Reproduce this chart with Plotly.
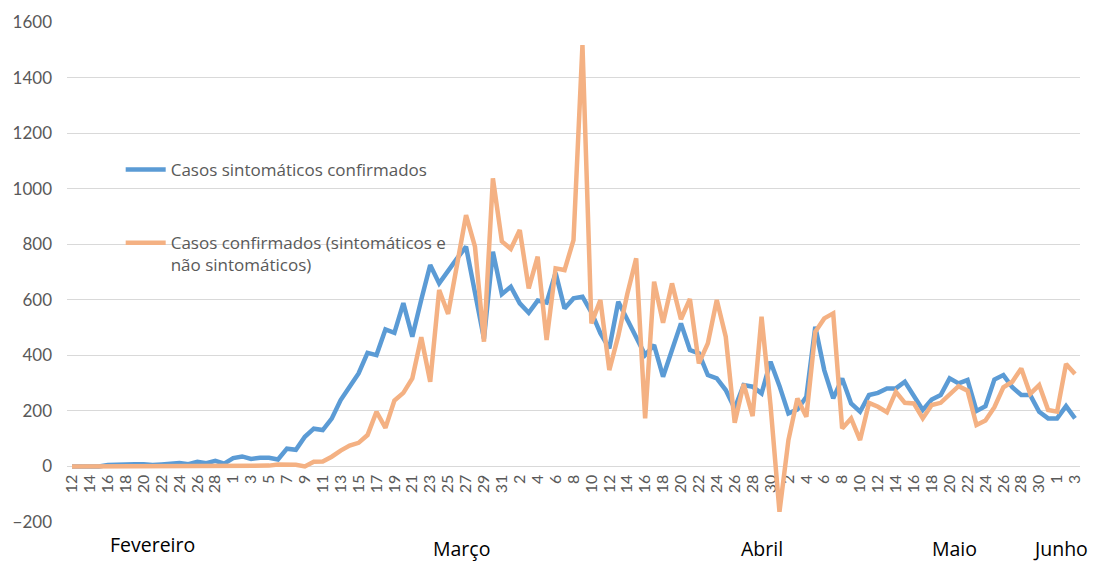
import pandas as pd
import plotly.graph_objects as go

# Categories: daily dates from 12 Feb to 3 Jun 2020
dates = pd.date_range("2020-02-12", "2020-06-03", freq="D")

# Casos sintomáticos confirmados (blue)
sintomaticos = [
    # Feb 12 - Feb 29
    0, 0, 0, 0, 5, 7, 8, 8, 8, 5, 7, 8, 12, 8, 17, 12, 20, 10,
    # Mar 1 - Mar 31
    30, 36, 27, 31, 31, 25, 64, 60, 107, 136, 131, 172, 239, 287, 335, 409,
    401, 493, 481, 588, 467, 600, 725, 659, 707, 749, 791, 625, 460, 773, 620,
    # Apr 1 - Apr 30
    647, 587, 553, 597, 590, 697, 569, 605, 611, 555, 480, 425, 593, 527, 467,
    401, 437, 323, 419, 515, 419, 407, 329, 317, 275, 209, 293, 287, 263, 377,
    # May 1 - May 31
    290, 191, 205, 251, 503, 347, 245, 317, 227, 197, 257, 265, 281, 281, 305,
    251, 203, 241, 257, 317, 299, 311, 200, 217, 313, 329, 285, 257, 257, 197, 173,
    # Jun 1 - Jun 3
    173, 217, 173,
]

# Casos confirmados (sintomáticos e não sintomáticos) (orange)
confirmados = [
    # Feb 12 - Feb 29
    0, 0, 0, 0, 0, 0, 0, 0, 0, 0, 0, 0, 0, 0, 0, 0, 0, 0,
    # Mar 1 - Mar 31
    3, 3, 3, 3, 3, 7, 7, 6, 0, 17, 18, 35, 57, 75, 85, 113,
    197, 139, 237, 265, 317, 465, 305, 635, 549, 725, 905, 791, 449, 1037, 810,
    # Apr 1 - Apr 30
    783, 851, 641, 755, 455, 713, 707, 815, 1517, 515, 599, 347, 470, 620, 749,
    173, 665, 517, 659, 530, 603, 371, 443, 599, 467, 157, 297, 181, 539, 220,
    # May 1 - May 31
    -163, 95, 245, 179, 485, 533, 551, 137, 173, 95, 229, 215, 195, 269, 229,
    227, 173, 221, 229, 257, 289, 273, 149, 165, 213, 285, 305, 353, 261, 293, 203,
    # Jun 1 - Jun 3
    197, 369, 333,
]

month_labels = ["Fevereiro", "Março", "Abril", "Maio", "Junho"]
month_label_dates = ["2020-02-21", "2020-03-26 12:00", "2020-04-29", "2020-05-20 12:00", "2020-06-01 08:00"]
month_label_y = [-0.044, -0.053, -0.053, -0.053, -0.053]

name_blue = "Casos sintomáticos confirmados"
name_orange = "Casos confirmados (sintomáticos e<br>não sintomáticos)"

FONT = "Lato"
GRAY = "#595959"

fig = go.Figure()
fig.add_trace(go.Scatter(
    x=dates, y=sintomaticos, mode="lines", name=name_blue,
    line=dict(color="#5B9BD5", width=4.5), legendgroup="a",
))
fig.add_trace(go.Scatter(
    x=dates, y=confirmados, mode="lines", name=name_orange,
    line=dict(color="#F4B183", width=4.5), legendgroup="b",
))

# y fraction of the value 0 inside the plot area (range -200..1600)
ymin, ymax = -200, 1600
zero_pos = (0 - ymin) / (ymax - ymin)

x0 = pd.Timestamp("2020-02-12") - pd.Timedelta(hours=13.4)
x1 = pd.Timestamp("2020-06-03") + pd.Timedelta(hours=13.4)

# the page body adds an 8px offset, so the figure is 8px smaller
fig.update_layout(
    width=1090, height=554,
    margin=dict(l=59, r=18, t=14, b=40),
    paper_bgcolor="white", plot_bgcolor="white",
    font=dict(family=FONT, color=GRAY, size=15),
    showlegend=True,
    legend=dict(
        x=0.053, y=0.740, xanchor="left", yanchor="top",
        traceorder="grouped", tracegroupgap=48, valign="top",
        font=dict(family="Open Sans", size=17, color=GRAY),
        bgcolor="rgba(0,0,0,0)", itemwidth=40,
    ),
    xaxis=dict(
        range=[x0, x1], automargin=False,
        tick0="2020-02-12", dtick=2 * 86400000, tickformat="%-d",
        tickangle=-90, showgrid=False, zeroline=False, showline=False,
        ticks="", anchor="free", position=zero_pos, layer="below traces",
        tickfont=dict(family=FONT, size=16, color=GRAY),
        ticklabelstandoff=4,
    ),
    yaxis=dict(
        range=[ymin, ymax], dtick=200, showgrid=True, gridcolor="#D9D9D9",
        gridwidth=1, zeroline=False, showline=False, ticks="", automargin=False,
        tickfont=dict(family=FONT, size=17, color=GRAY),
        ticklabelstandoff=14,
    ),
)

for lab, d, yy in zip(month_labels, month_label_dates, month_label_y):
    fig.add_annotation(
        x=d, y=yy, xref="x", yref="paper", text=lab, showarrow=False,
        font=dict(family="Open Sans", size=19.5, color="black"),
        yanchor="middle", borderpad=0,
    )

fig.write_html("out.html")
